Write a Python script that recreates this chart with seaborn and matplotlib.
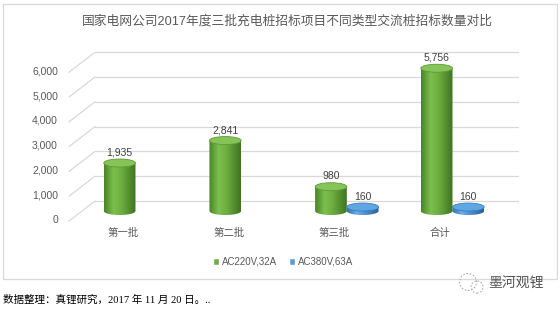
import numpy as np
import pandas as pd
import seaborn as sns
import matplotlib
matplotlib.use("Agg")
import matplotlib.pyplot as plt
import matplotlib.transforms as mtransforms
from matplotlib.patches import Ellipse, PathPatch, Rectangle, Patch, Circle
from matplotlib.path import Path
from matplotlib.colors import LinearSegmentedColormap

# ---- data ----
categories = ["第一批", "第二批", "第三批", "合计"]
series_names = ["AC220V,32A", "AC380V,63A"]
ac220_counts = [1935, 2841, 980, 5756]
ac380_counts = [0, 0, 160, 160]
y_ticks = [0, 1000, 2000, 3000, 4000, 5000, 6000]
title = "国家电网公司2017年度三批充电桩招标项目不同类型交流桩招标数量对比"
source_note = "数据整理：真锂研究，2017 年 11 月 20 日。.."
brand = "墨河观锂"

df = pd.DataFrame({
    "批次": categories * 2,
    "型号": [series_names[0]] * len(categories) + [series_names[1]] * len(categories),
    "数量": ac220_counts + ac380_counts,
})

# ---- styling ----
sns.set_theme(style="white")
plt.rcParams["font.family"] = ["Liberation Sans", "Noto Sans CJK SC", "DejaVu Sans"]

base_colors = {series_names[0]: "#70AD47", series_names[1]: "#5B9BD5"}
body_cmaps = {
    series_names[0]: LinearSegmentedColormap.from_list(
        "g", [(0, "#4a8427"), (0.3, "#7dbf4f"), (0.55, "#6eae40"), (1, "#3e7420")]),
    series_names[1]: LinearSegmentedColormap.from_list(
        "b", [(0, "#356fae"), (0.3, "#6aaee6"), (0.55, "#4f93d2"), (1, "#2b5f98")]),
}
cap_colors = {series_names[0]: ("#86c45a", "#5d9a36"), series_names[1]: ("#5ea7e3", "#3c7dbd")}

W, H, DPI = 560, 309, 100
fig = plt.figure(figsize=(W / DPI, H / DPI), dpi=DPI)
fig.patch.set_facecolor("white")

# chart frame
fig.patches.append(Rectangle((3 / W, 1 - 279 / H), 554 / W, 275 / H, transform=fig.transFigure,
                             fill=False, ec="#d9d9d9", lw=0.9))

ax_bottom_px, ax_top_px = 225.9, 37.4
ax = fig.add_axes([95 / W, (H - ax_bottom_px) / H, 423 / W, (ax_bottom_px - ax_top_px) / H])
ymin, ymax = -600, 7000
xmin, xmax = -0.383, 3.62

sns.barplot(data=df, x="批次", y="数量", hue="型号", palette=base_colors, width=0.6,
            saturation=1, legend=False, ax=ax)

px_per_unit = (ax_bottom_px - ax_top_px) / (ymax - ymin)
cap_h = 8 / px_per_unit          # ellipse height of cylinder ends
lift = 10 / px_per_unit          # perspective shift of the back wall

grad = np.linspace(0, 1, 64).reshape(1, -1)
for container, name in zip(ax.containers, series_names):
    for bar in container:
        v = bar.get_height()
        bar.set_visible(False)
        if not v or v <= 0:
            continue
        x0, w = bar.get_x(), bar.get_width()
        xc = x0 + w / 2
        t = np.linspace(np.pi, 2 * np.pi, 40)
        verts = [(x0, v)] + list(zip(xc + w / 2 * np.cos(t), cap_h / 2 * np.sin(t))) + [(x0 + w, v), (x0, v)]
        codes = [Path.MOVETO] + [Path.LINETO] * (len(verts) - 2) + [Path.CLOSEPOLY]
        body = PathPatch(Path(verts, codes), transform=ax.transData, fc="none", ec="none")
        ax.add_patch(body)
        im = ax.imshow(grad, cmap=body_cmaps[name], extent=(x0, x0 + w, -cap_h / 2, v),
                       aspect="auto", origin="lower", interpolation="bilinear", zorder=3)
        im.set_clip_path(body)
        fc, ec = cap_colors[name]
        ax.add_patch(Ellipse((xc, v), w, cap_h, fc=fc, ec=ec, lw=0.6, zorder=4))
        ax.annotate(f"{v:,.0f}", (xc, v), xytext=(0, 7.4), textcoords="offset points",
                    ha="center", va="center", fontsize=7.5, color="#404040", zorder=5)

ax.set_xlim(xmin, xmax)
ax.set_ylim(ymin, ymax)

# back-wall gridlines and perspective side lines
ytr = ax.get_yaxis_transform()
for v in y_ticks:
    ax.plot([0, 1], [v + lift, v + lift], transform=ytr, color="#d9d9d9", lw=0.9,
            zorder=1, clip_on=False)
    ax.plot([-26 / 423, 0], [v - lift, v + lift], transform=ytr, color="#d9d9d9", lw=0.9,
            zorder=1, clip_on=False)

ax.set_yticks(y_ticks, labels=[f"{t:,}" for t in y_ticks])
ax.tick_params(axis="y", length=0, pad=0, labelsize=7.5, labelcolor="#595959")
for lbl in ax.get_yticklabels():
    lbl.set_transform(lbl.get_transform() +
                      mtransforms.ScaledTranslation(-37 / DPI, -8 / DPI, fig.dpi_scale_trans))

ax.set_xticks(range(len(categories)), labels=categories)
ax.tick_params(axis="x", length=0, pad=1.5, labelsize=7.5, labelcolor="#595959")
for lbl in ax.get_xticklabels():
    lbl.set_transform(lbl.get_transform() +
                      mtransforms.ScaledTranslation(-12.5 / DPI, 0, fig.dpi_scale_trans))

ax.set_xlabel("")
ax.set_ylabel("")
ax.grid(False)
ax.set_facecolor("none")
for s in ax.spines.values():
    s.set_visible(False)

fig.text(287 / W, 1 - 21.5 / H, title, ha="center", va="center", fontsize=9.2, color="#595959")

fig.legend(handles=[Patch(fc=base_colors[n]) for n in series_names], labels=series_names,
           loc="center", bbox_to_anchor=(283 / W, 1 - 262 / H), ncol=2, frameon=False,
           fontsize=7, handlelength=0.6, handleheight=0.6, handletextpad=0.3,
           columnspacing=1.3, labelcolor="#595959")

fig.text(3 / W, 1 - 300 / H, source_note, ha="left", va="center", fontsize=7.6, color="black",
         family=["Liberation Serif", "Noto Sans CJK SC"])

# brand mark
for cx, cy, r in [(468, 282, 8.5), (477, 287, 6)]:
    fig.patches.append(Circle((cx / DPI, (H - cy) / DPI), r / DPI, transform=fig.dpi_scale_trans,
                              fill=False, ec="#b0b0b0", lw=0.8, ls=(0, (1.5, 1.5))))
fig.text(488 / W, 1 - 283 / H, brand, ha="left", va="center", fontsize=10, color="#555555")

fig.savefig("out.png", dpi=DPI)
